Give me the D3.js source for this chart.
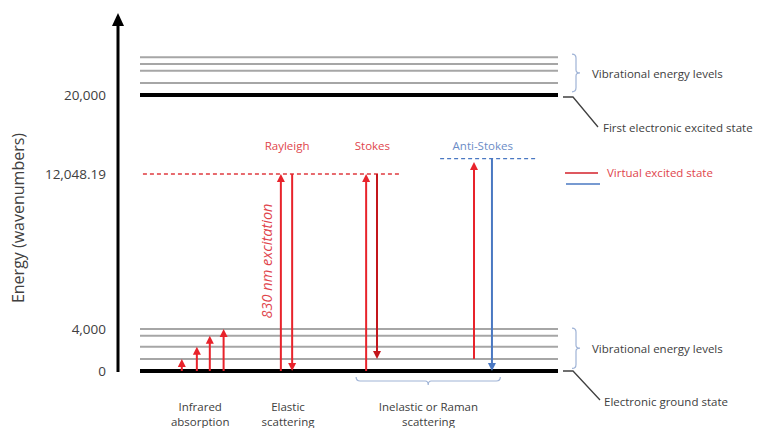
<!DOCTYPE html>
<html>
<head>
<meta charset="utf-8">
<title>Raman energy diagram</title>
<script src="https://d3js.org/d3.v7.min.js"></script>
<style>
body { margin: 0; padding: 0; background: #fff; font-family: "Open Sans", sans-serif; }
</style>
</head>
<body>
<div id="chart"></div>
<script>
// energy values (wavenumbers)
var tickValues = [0, 4000, 12048.19, 20000];
var tickLabels = ["0", "4,000", "12,048.19", "20,000"];
var groundLevels = [1150, 2300, 3350, 4000];          // vibrational levels of ground state
var excitedLevels = [21150, 22300, 22950, 23600];     // vibrational levels of excited state
var virtualRed = 12048.19;
var virtualBlue = 13600;

// transitions: x in diagram units (0-100), from / to energy
var irArrows = [
  {x: 10,   from: 0, to: 1150},
  {x: 13.6, from: 0, to: 2300},
  {x: 16.7, from: 0, to: 3350},
  {x: 20,   from: 0, to: 4000}
];
var scatterArrows = [
  {name: "Rayleigh up",    x: 33.7, from: 0,        to: 12048.19, color: "#e8232b"},
  {name: "Rayleigh down",  x: 36.4, from: 12048.19, to: 0,        color: "#e8232b"},
  {name: "Stokes up",      x: 54.1, from: 0,        to: 12048.19, color: "#e8232b"},
  {name: "Stokes down",    x: 56.7, from: 12048.19, to: 1150,     color: "#c3161c"},
  {name: "Anti-Stokes up", x: 79.9, from: 1150,     to: 13250,    color: "#e8232b"},
  {name: "Anti-Stokes down", x: 84.2, from: 13600,  to: 0,        color: "#4a78c2"}
];
var processLabels = [
  {text: "Rayleigh", x: 35.2, color: "#e0454c"},
  {text: "Stokes", x: 55.6, color: "#e0454c"},
  {text: "Anti-Stokes", x: 82, color: "#6b8cc6"}
];
var bottomLabels = [
  {lines: ["Infrared", "absorption"], x: 14.4},
  {lines: ["Elastic", "scattering"], x: 35.4},
  {lines: ["Inelastic or Raman", "scattering"], x: 69}
];

var width = 757, height = 428;
var svg = d3.select("#chart").append("svg")
  .attr("width", width).attr("height", height);

// schematic (non linear) energy axis
var y = d3.scaleLinear()
  .domain([0, 4000, 12048.19, 20000, 24000])
  .range([371, 329, 174, 95, 53]);
var x = d3.scaleLinear().domain([0, 100]).range([140, 558]);

var red = "#e8232b", textGray = "#404040";

// axis line with arrow
svg.append("line")
  .attr("x1", 118).attr("x2", 118)
  .attr("y1", y(0) + 1).attr("y2", 24)
  .attr("stroke", "#000").attr("stroke-width", 3);
svg.append("path")
  .attr("d", "M112,26 L118,13 L124,26 Z")
  .attr("fill", "#000");

// tick labels
svg.selectAll(".tick-label")
  .data(tickValues)
  .enter().append("text")
  .attr("class", "tick-label")
  .attr("x", 106)
  .attr("y", function(d) { return y(d); })
  .attr("dy", "0.35em")
  .attr("text-anchor", "end")
  .attr("font-size", 13.5)
  .attr("fill", textGray)
  .text(function(d, i) { return tickLabels[i]; });

svg.append("text")
  .attr("transform", "translate(18,218) rotate(-90)")
  .attr("text-anchor", "middle")
  .attr("dy", "0.35em")
  .attr("font-size", 16)
  .attr("fill", textGray)
  .text("Energy (wavenumbers)");

// vibrational levels
svg.selectAll(".vib")
  .data(groundLevels.concat(excitedLevels))
  .enter().append("line")
  .attr("class", "vib")
  .attr("x1", x(0)).attr("x2", x(100))
  .attr("y1", function(d) { return y(d); })
  .attr("y2", function(d) { return y(d); })
  .attr("stroke", "#a6a6a6").attr("stroke-width", 2);

// electronic states
svg.selectAll(".elec")
  .data([0, 20000])
  .enter().append("line")
  .attr("class", "elec")
  .attr("x1", x(0)).attr("x2", x(100))
  .attr("y1", function(d) { return y(d); })
  .attr("y2", function(d) { return y(d); })
  .attr("stroke", "#000").attr("stroke-width", 4);

// virtual states
svg.append("line")
  .attr("x1", x(0.7)).attr("x2", x(62.2))
  .attr("y1", y(virtualRed)).attr("y2", y(virtualRed))
  .attr("stroke", "#e03a3f").attr("stroke-width", 1.3)
  .attr("stroke-dasharray", "4,3");
svg.append("line")
  .attr("x1", x(71.8)).attr("x2", x(95))
  .attr("y1", y(virtualBlue)).attr("y2", y(virtualBlue))
  .attr("stroke", "#4a78c2").attr("stroke-width", 1.3)
  .attr("stroke-dasharray", "4,3");

// arrows: shaft + triangular head at the "to" end
function drawArrows(data, color) {
  var g = svg.append("g");
  g.selectAll("line")
    .data(data)
    .enter().append("line")
    .attr("x1", function(d) { return x(d.x); })
    .attr("x2", function(d) { return x(d.x); })
    .attr("y1", function(d) { return y(d.from); })
    .attr("y2", function(d) { return y(d.to) + (d.to > d.from ? 6 : -6); })
    .attr("stroke", function(d) { return d.color || color; })
    .attr("stroke-width", 2);
  g.selectAll("path")
    .data(data)
    .enter().append("path")
    .attr("d", function(d) {
      var cx = x(d.x), ty = y(d.to), up = d.to > d.from;
      var by = up ? ty + 8 : ty - 8;
      return "M" + (cx - 4) + "," + by + " L" + cx + "," + ty + " L" + (cx + 4) + "," + by + " Z";
    })
    .attr("fill", function(d) { return d.color || color; });
}
drawArrows(irArrows, red);
drawArrows(scatterArrows, red);

// process labels
svg.selectAll(".proc")
  .data(processLabels)
  .enter().append("text")
  .attr("class", "proc")
  .attr("x", function(d) { return x(d.x); })
  .attr("y", 146)
  .attr("dy", "0.35em")
  .attr("text-anchor", "middle")
  .attr("font-size", 11.5)
  .attr("fill", function(d) { return d.color; })
  .text(function(d) { return d.text; });

svg.append("text")
  .attr("transform", "translate(" + (x(30.3)) + ",261) rotate(-90)")
  .attr("text-anchor", "middle")
  .attr("dy", "0.35em")
  .attr("font-size", 14.5)
  .attr("font-style", "italic")
  .attr("fill", "#e0454c")
  .text("830 nm excitation");

// bottom labels
var bl = svg.selectAll(".bottom")
  .data(bottomLabels)
  .enter().append("text")
  .attr("class", "bottom")
  .attr("text-anchor", "middle")
  .attr("font-size", 11.5)
  .attr("fill", textGray);
bl.selectAll("tspan")
  .data(function(d) { return d.lines.map(function(l) { return {t: l, x: d.x}; }); })
  .enter().append("tspan")
  .attr("x", function(d) { return x(d.x); })
  .attr("y", function(d, i) { return 411 + i * 15; })
  .text(function(d) { return d.t; });

// braces
var braceColor = "#9fb3d6";
function vBrace(bx, y0, y1) {
  var m = (y0 + y1) / 2;
  return "M" + bx + "," + y0 + " q4,0 4,4 L" + (bx + 4) + "," + (m - 3) + " q0,3 4,3 q-4,0 -4,3 L" + (bx + 4) + "," + (y1 - 4) + " q0,4 -4,4";
}
svg.append("path").attr("d", vBrace(572, y(23900), y(20300)))
  .attr("fill", "none").attr("stroke", braceColor).attr("stroke-width", 1.2);
svg.append("path").attr("d", vBrace(572, y(4050), y(250)))
  .attr("fill", "none").attr("stroke", braceColor).attr("stroke-width", 1.2);
// horizontal brace under raman
(function() {
  var x0 = x(51.7), x1 = x(86.2), by = 377, m = (x0 + x1) / 2;
  svg.append("path")
    .attr("d", "M" + x0 + "," + by + " q0,4 4,4 L" + (m - 3) + "," + (by + 4) + " q3,0 3,4 q0,-4 3,-4 L" + (x1 - 4) + "," + (by + 4) + " q4,0 4,-4")
    .attr("fill", "none").attr("stroke", braceColor).attr("stroke-width", 1.2);
})();

// connectors to state labels
svg.append("path")
  .attr("d", "M563," + (y(20000) + 2) + " L573," + (y(20000) + 2) + " L598,127")
  .attr("fill", "none").attr("stroke", "#404040").attr("stroke-width", 1.3);
svg.append("path")
  .attr("d", "M563," + y(0) + " L573," + y(0) + " L600,400")
  .attr("fill", "none").attr("stroke", "#404040").attr("stroke-width", 1.3);

var notes = [
  {t: "Vibrational energy levels", x: 592, y: 74, c: textGray},
  {t: "First electronic excited state", x: 603, y: 128, c: textGray},
  {t: "Virtual excited state", x: 607, y: 173, c: "#e0454c"},
  {t: "Vibrational energy levels", x: 592, y: 349, c: textGray},
  {t: "Electronic ground state", x: 604, y: 402, c: textGray}
];
svg.selectAll(".note")
  .data(notes)
  .enter().append("text")
  .attr("class", "note")
  .attr("x", function(d) { return d.x; })
  .attr("y", function(d) { return d.y; })
  .attr("dy", "0.35em")
  .attr("font-size", 11.5)
  .attr("fill", function(d) { return d.c; })
  .text(function(d) { return d.t; });

// legend lines
svg.append("line").attr("x1", 565).attr("x2", 598).attr("y1", 173).attr("y2", 173)
  .attr("stroke", "#d3202a").attr("stroke-width", 1.5);
svg.append("line").attr("x1", 566).attr("x2", 600).attr("y1", 184).attr("y2", 184)
  .attr("stroke", "#4a78c2").attr("stroke-width", 1.5);
</script>
</body>
</html>
